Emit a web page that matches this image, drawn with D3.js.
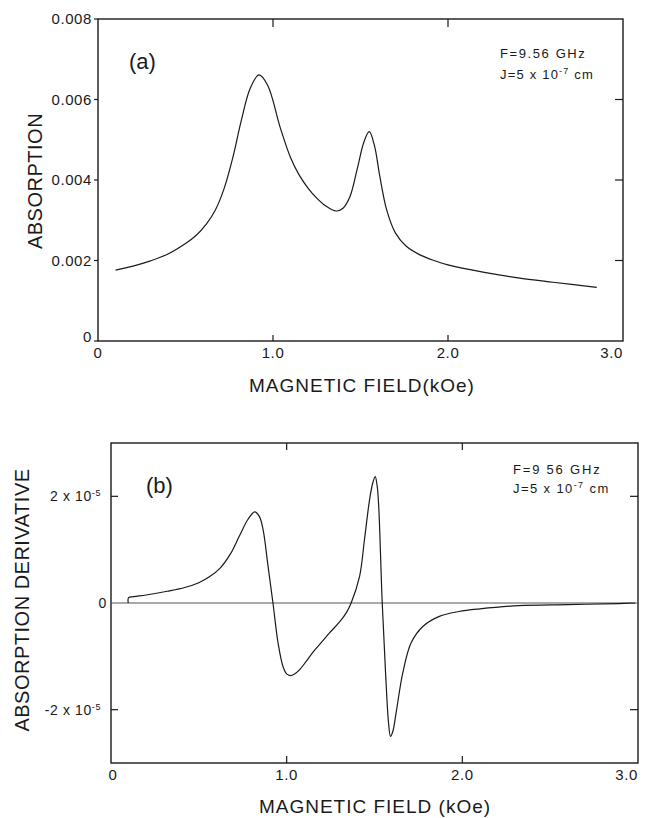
<!DOCTYPE html>
<html><head><meta charset="utf-8">
<script src="https://cdn.jsdelivr.net/npm/d3@7"></script>
<style>
body{margin:0;background:#fff;}
svg{display:block;font-family:"Liberation Sans",Arial,sans-serif;}
</style></head>
<body><svg id="c" width="647" height="818"></svg>
<script>
// ---- Data ----
const xTickValues = [0, 1, 2, 3];
const xTickLabels = ["0", "1.0", "2.0", "3.0"];
const absTickValues = [0, 0.002, 0.004, 0.006, 0.008];
const absTickLabels = ["0", "0.002", "0.004", "0.006", "0.008"];
const derTickValues = [-2e-5, 0, 2e-5];

const absField = [0.10,0.20,0.30,0.40,0.50,0.56,0.62,0.67,0.72,0.77,0.82,0.87,0.92,0.97,1.04,1.10,1.15,1.20,1.25,1.30,1.36,1.40,1.44,1.48,1.52,1.55,1.58,1.61,1.65,1.70,1.76,1.84,1.92,2.00,2.20,2.40,2.60,2.85];
const absValue = [0.00176,0.00186,0.00199,0.00216,0.00242,0.00262,0.00291,0.00325,0.00378,0.00455,0.00550,0.00628,0.00661,0.00635,0.00532,0.00456,0.00412,0.00380,0.00355,0.00336,0.00323,0.00330,0.00359,0.00425,0.00495,0.00520,0.00485,0.00410,0.00325,0.00268,0.00236,0.00214,0.00200,0.00189,0.00171,0.00157,0.00146,0.00133];

const derField = [0.098,0.10,0.13,0.20,0.32,0.42,0.50,0.56,0.62,0.68,0.73,0.78,0.818,0.845,0.866,0.894,0.922,0.951,0.979,1.00,1.021,1.045,1.074,1.11,1.15,1.20,1.244,1.30,1.34,1.367,1.415,1.443,1.472,1.49,1.504,1.515,1.524,1.544,1.563,1.58,1.591,1.605,1.623,1.661,1.708,1.775,1.869,1.98,2.10,2.32,2.60,2.89,2.985];
const derValue = [0,0.10e-5,0.12e-5,0.15e-5,0.22e-5,0.29e-5,0.38e-5,0.49e-5,0.65e-5,0.92e-5,1.25e-5,1.57e-5,1.71e-5,1.62e-5,1.37e-5,0.69e-5,0,-0.75e-5,-1.19e-5,-1.33e-5,-1.36e-5,-1.33e-5,-1.25e-5,-1.10e-5,-0.92e-5,-0.73e-5,-0.56e-5,-0.36e-5,-0.18e-5,0,0.50e-5,1.19e-5,1.94e-5,2.25e-5,2.37e-5,2.2e-5,1.81e-5,0,-1.31e-5,-2.25e-5,-2.5e-5,-2.4e-5,-2.06e-5,-1.31e-5,-0.75e-5,-0.44e-5,-0.25e-5,-0.16e-5,-0.11e-5,-0.05e-5,-0.03e-5,-0.01e-5,0];

const svg = d3.select("#c");
const ink = "#1a1a1a";

// ---- Panel (a) ----
const xa = d3.scaleLinear().domain([0,3]).range([98,623]);
const ya = d3.scaleLinear().domain([0,0.008]).range([341,19]);
const ga = svg.append("g");
ga.append("rect").attr("x",xa(0)).attr("y",ya(0.008)).attr("width",xa(3)-xa(0)).attr("height",ya(0)-ya(0.008))
  .attr("fill","none").attr("stroke",ink).attr("stroke-width",1.4);
ga.selectAll(".lt").data(absTickValues).join("line").attr("x1",xa(0)-4).attr("x2",xa(0)).attr("y1",d=>ya(d)).attr("y2",d=>ya(d)).attr("stroke",ink).attr("stroke-width",1.2);
ga.selectAll(".rt").data([0.002,0.004,0.006]).join("line").attr("x1",xa(3)-8).attr("x2",xa(3)).attr("y1",d=>ya(d)).attr("y2",d=>ya(d)).attr("stroke",ink).attr("stroke-width",1.2);
ga.selectAll(".tt").data([1,2]).join("line").attr("x1",d=>xa(d)).attr("x2",d=>xa(d)).attr("y1",ya(0.008)).attr("y2",ya(0.008)+8).attr("stroke",ink).attr("stroke-width",1.2);
ga.selectAll(".bt").data([1,2]).join("line").attr("x1",d=>xa(d)).attr("x2",d=>xa(d)).attr("y1",ya(0)).attr("y2",ya(0)-6).attr("stroke",ink).attr("stroke-width",1.2);
ga.selectAll(".yl").data(absTickValues).join("text").attr("x",92).attr("y",(d,i)=>ya(d)+(i===0?-4:0)).attr("dy","0.36em")
  .attr("text-anchor","end").attr("font-size",15).attr("letter-spacing",0.6).attr("fill",ink).text((d,i)=>absTickLabels[i]);
ga.selectAll(".xl").data(xTickValues).join("text").attr("x",d=>xa(d)).attr("y",358).attr("text-anchor",(d,i)=>i===3?"end":"middle")
  .attr("font-size",15).attr("letter-spacing",0.6).attr("fill",ink).text((d,i)=>xTickLabels[i]);
ga.append("text").attr("x",362).attr("y",392).attr("text-anchor","middle").attr("font-size",19).attr("letter-spacing",1).attr("fill",ink).text("MAGNETIC FIELD(kOe)");
ga.append("text").attr("transform","translate(42,181) rotate(-90)").attr("text-anchor","middle").attr("font-size",20).attr("letter-spacing",0.5).attr("fill",ink).text("ABSORPTION");
ga.append("text").attr("x",129).attr("y",69).attr("font-size",22).attr("fill",ink).text("(a)");
ga.append("text").attr("x",500).attr("y",58).attr("font-size",13).attr("letter-spacing",1.6).attr("fill",ink).text("F=9.56 GHz");
const ja = ga.append("text").attr("x",500).attr("y",79).attr("font-size",13).attr("letter-spacing",1.2).attr("fill",ink);
ja.append("tspan").text("J=5 x 10");
ja.append("tspan").attr("dy",-5).attr("font-size",9).text("-7");
ja.append("tspan").attr("dy",5).text(" cm");

const lineA = d3.line().x((d,i)=>xa(absField[i])).y(d=>ya(d)).curve(d3.curveCatmullRom.alpha(0.5));
ga.append("path").attr("d",lineA(absValue)).attr("fill","none").attr("stroke",ink).attr("stroke-width",1.2);

// ---- Panel (b) ----
const xb = d3.scaleLinear().domain([0,3]).range([111,638]);
const yb = d3.scaleLinear().domain([-3e-5,3e-5]).range([763,443]);
const gb = svg.append("g");
gb.append("rect").attr("x",xb(0)).attr("y",yb(3e-5)).attr("width",xb(3)-xb(0)).attr("height",yb(-3e-5)-yb(3e-5))
  .attr("fill","none").attr("stroke",ink).attr("stroke-width",1.4);
gb.append("line").attr("x1",xb(0)).attr("x2",xb(3)).attr("y1",yb(0)).attr("y2",yb(0)).attr("stroke","#555").attr("stroke-width",1);
gb.selectAll(".lt").data([-2e-5,2e-5]).join("line").attr("x1",xb(0)).attr("x2",xb(0)+7).attr("y1",d=>yb(d)).attr("y2",d=>yb(d)).attr("stroke",ink).attr("stroke-width",1.2);
gb.selectAll(".rt").data([-2e-5,2e-5]).join("line").attr("x1",xb(3)-8).attr("x2",xb(3)).attr("y1",d=>yb(d)).attr("y2",d=>yb(d)).attr("stroke",ink).attr("stroke-width",1.2);
gb.selectAll(".tt").data([1,2]).join("line").attr("x1",d=>xb(d)).attr("x2",d=>xb(d)).attr("y1",yb(3e-5)).attr("y2",yb(3e-5)+7).attr("stroke",ink).attr("stroke-width",1.2);
gb.selectAll(".bt").data([1,2]).join("line").attr("x1",d=>xb(d)).attr("x2",d=>xb(d)).attr("y1",yb(-3e-5)).attr("y2",yb(-3e-5)-7).attr("stroke",ink).attr("stroke-width",1.2);
derTickValues.forEach(v=>{
  const t = gb.append("text").attr("x",v===0?107:101).attr("y",yb(v)).attr("dy","0.36em").attr("text-anchor","end").attr("font-size",14).attr("letter-spacing",0.6).attr("fill",ink);
  if(v===0){ t.text("0"); return; }
  t.append("tspan").text((v<0?"-":"")+"2 x 10");
  t.append("tspan").attr("dy",-5).attr("font-size",9).text("-5");
});
gb.selectAll(".xl").data(xTickValues).join("text").attr("x",(d,i)=>xb(d)+(i===0?2:0)).attr("y",780).attr("text-anchor",(d,i)=>i===3?"end":"middle")
  .attr("font-size",15).attr("letter-spacing",0.6).attr("fill",ink).text((d,i)=>xTickLabels[i]);
gb.append("text").attr("x",375).attr("y",813).attr("text-anchor","middle").attr("font-size",19).attr("letter-spacing",1).attr("fill",ink).text("MAGNETIC FIELD (kOe)");
gb.append("text").attr("transform","translate(29,600) rotate(-90)").attr("text-anchor","middle").attr("font-size",20).attr("letter-spacing",0.5).attr("fill",ink).text("ABSORPTION DERIVATIVE");
gb.append("text").attr("x",146).attr("y",493).attr("font-size",22).attr("fill",ink).text("(b)");
gb.append("text").attr("x",513).attr("y",474).attr("font-size",13).attr("letter-spacing",1.8).attr("fill",ink).text("F=9 56 GHz");
const jb = gb.append("text").attr("x",513).attr("y",493).attr("font-size",13).attr("letter-spacing",1.4).attr("fill",ink);
jb.append("tspan").text("J=5 x 10");
jb.append("tspan").attr("dy",-5).attr("font-size",9).text("-7");
jb.append("tspan").attr("dy",5).text(" cm");

const lineB = d3.line().x((d,i)=>xb(derField[i])).y(d=>yb(d)).curve(d3.curveCatmullRom.alpha(0.5));
gb.append("path").attr("d",lineB(derValue)).attr("fill","none").attr("stroke",ink).attr("stroke-width",1.2);
</script></body></html>
